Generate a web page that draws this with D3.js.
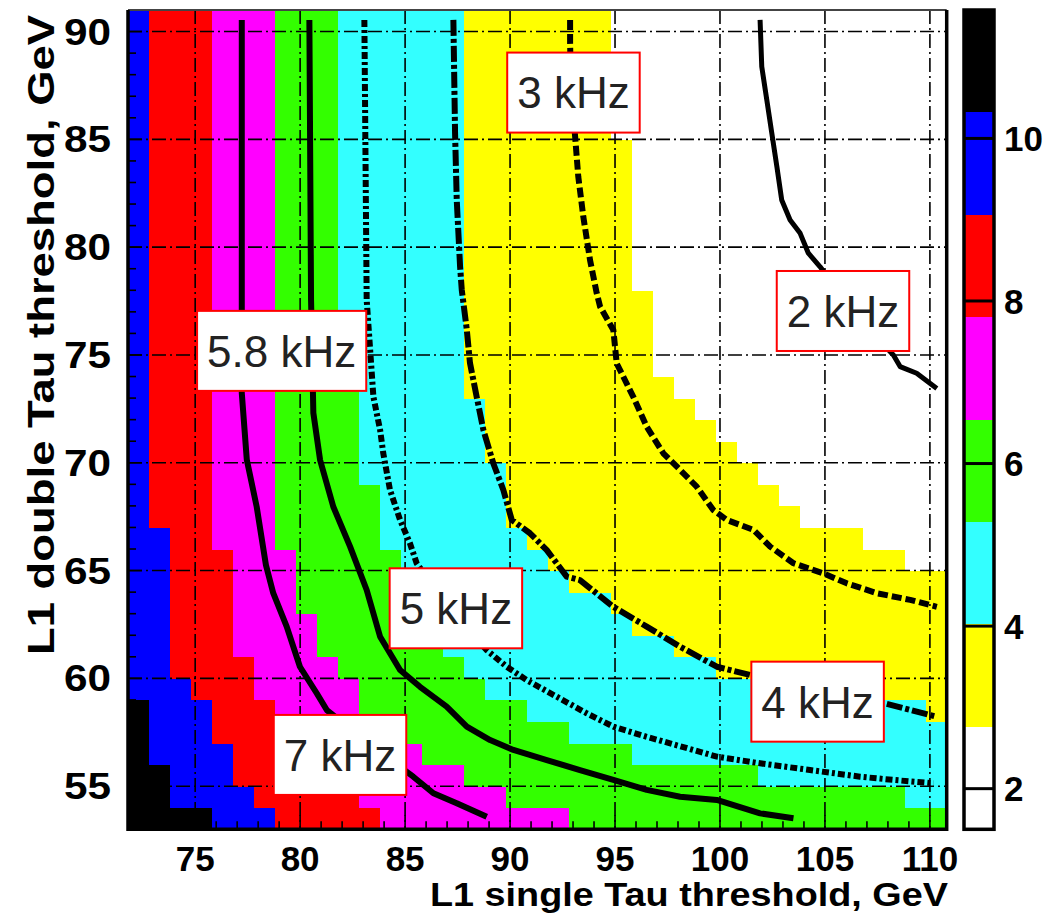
<!DOCTYPE html>
<html>
<head>
<meta charset="utf-8">
<script src="https://cdn.jsdelivr.net/npm/d3@7"></script>
<style>
  body { margin: 0; background: #fff; }
  text { font-family: "Liberation Sans", Arial, sans-serif; }
</style>
</head>
<body>
<svg id="chart" width="1062" height="921"></svg>
<script>
// axis ranges (1 GeV bins)
const xRange = [71.8, 110.8];
const yRange = [53, 91];
const xTicks = [75, 80, 85, 90, 95, 100, 105, 110];
const yTicks = [55, 60, 65, 70, 75, 80, 85, 90];

// rate levels (kHz) of the colour palette and their colours, low -> high
const zLevels = [1.5, 2.76, 4.02, 5.28, 6.54, 7.8, 9.06, 10.32, 11.58];
const zColors = ["#ffffff", "#ffff00", "#33ffff", "#33ff00", "#ff00ff", "#ff0000", "#0000ff", "#000000"];
const zTicks = [2, 4, 6, 8, 10];

// for every row (double Tau 53..90, bottom first): x bin where
// blue, red, magenta, green, cyan, yellow, white start (black before blue)
const rowBreaks = [
  [4, 7, 12, 21, 39, 39, 39],
  [2, 6, 11, 18, 37, 39, 39],
  [2, 5, 10, 16, 30, 39, 39],
  [1, 5, 9, 14, 24, 39, 39],
  [1, 4, 8, 13, 21, 39, 39],
  [1, 4, 7, 11, 19, 38, 39],
  [0, 3, 6, 11, 17, 34, 39],
  [0, 2, 6, 10, 16, 28, 39],
  [0, 2, 5, 9, 15, 26, 39],
  [0, 2, 5, 9, 14, 24, 39],
  [0, 2, 5, 8, 14, 23, 39],
  [0, 2, 5, 8, 13, 21, 39],
  [0, 2, 5, 8, 13, 20, 37],
  [0, 2, 4, 7, 12, 19, 35],
  [0, 1, 4, 7, 12, 18, 32],
  [0, 1, 4, 7, 12, 18, 31],
  [0, 1, 4, 7, 11, 18, 30],
  [0, 1, 4, 7, 11, 17, 29],
  [0, 1, 4, 7, 11, 17, 28],
  [0, 1, 4, 7, 11, 17, 27],
  [0, 1, 4, 7, 11, 16, 26],
  [0, 1, 4, 7, 11, 16, 25],
  [0, 1, 4, 7, 11, 16, 25],
  [0, 1, 4, 7, 10, 16, 25],
  [0, 1, 4, 7, 10, 16, 25],
  [0, 1, 4, 7, 10, 16, 24],
  [0, 1, 4, 7, 10, 16, 24],
  [0, 1, 4, 7, 10, 16, 24],
  [0, 1, 4, 7, 10, 16, 24],
  [0, 1, 4, 7, 10, 16, 24],
  [0, 1, 4, 7, 10, 16, 24],
  [0, 1, 4, 7, 10, 16, 24],
  [0, 1, 4, 7, 10, 16, 23],
  [0, 1, 4, 7, 10, 16, 23],
  [0, 1, 4, 7, 10, 16, 23],
  [0, 1, 4, 7, 10, 16, 23],
  [0, 1, 4, 7, 10, 16, 23],
  [0, 1, 4, 7, 10, 16, 23]
];

// iso-rate contours [single, double]
const c7 = [[77.22, 90.54], [77.22, 73.24], [77.46, 70.13], [77.93, 67.96], [78.37, 65.26], [78.72, 63.95],
  [79.36, 62.40], [79.99, 60.54], [80.79, 59.31], [81.27, 58.53], [83.5, 56.8], [85.39, 55.44], [86.35, 54.67],
  [87.46, 54.21], [88.89, 53.58]];
const c58 = [[80.44, 90.54], [80.52, 77.55], [80.63, 72.31], [80.95, 70.13], [81.58, 67.96], [82.38, 66.11],
  [83.17, 64.10], [83.81, 61.93], [84.76, 60.39], [85.71, 59.61], [86.98, 58.69], [87.94, 57.76], [89.05, 57.14],
  [90.16, 56.68], [91.75, 56.21], [93.33, 55.75], [94.92, 55.29], [96.51, 54.83], [98.10, 54.51], [99.85, 54.36],
  [101.91, 53.74], [103.50, 53.51]];
const c5 = [[83.06, 90.54], [83.17, 77.55], [83.49, 73.06], [83.81, 71.52], [83.96, 70.44], [84.28, 68.74],
  [84.76, 67.35], [85.23, 66.27], [85.55, 65.34], [87.14, 63.17], [88.89, 61.31], [89.84, 60.54], [90.79, 59.92],
  [92.22, 59.15], [93.65, 58.38], [94.92, 57.76], [96.51, 57.29], [98.73, 56.68], [99.85, 56.37], [101.91, 56.06],
  [104.29, 55.75], [106.67, 55.44], [108.26, 55.29], [110.17, 55.13]];
const c4 = [[87.30, 90.54], [87.38, 85.30], [87.46, 82.19], [87.62, 79.09], [87.70, 78.01], [87.94, 76.16],
  [88.09, 74.63], [88.41, 73.06], [88.73, 71.52], [89.20, 69.98], [89.68, 68.74], [90.08, 67.35], [90.95, 66.73],
  [91.75, 65.95], [92.70, 64.72], [93.33, 64.56], [94.92, 63.32], [96.51, 62.40], [98.10, 61.47], [99.85, 60.54],
  [101.43, 60.16], [104.77, 59.47], [107.86, 58.84], [110.33, 58.22]];
const c3 = [[92.86, 90.54], [92.86, 89.47], [92.9, 87.5], [93.10, 85.12], [93.25, 83.27], [93.49, 81.41],
  [93.81, 79.40], [94.13, 77.86], [94.29, 77.24], [94.92, 76.16], [95.08, 74.61], [95.87, 73.06], [96.51, 71.67],
  [97.30, 70.44], [98.10, 69.67], [98.89, 68.89], [99.68, 67.81], [100.32, 67.35], [101.59, 66.89], [102.39, 66.11],
  [103.50, 65.34], [104.93, 64.87], [106.04, 64.41], [107.47, 63.95], [109.06, 63.64], [110.33, 63.32]];
const c2 = [[101.91, 90.54], [101.99, 88.37], [102.23, 86.83], [102.47, 85.28], [102.71, 83.73], [102.94, 82.19],
  [103.34, 81.26], [103.82, 80.64], [104.21, 79.72], [104.77, 79.09], [106.67, 76.62], [108.26, 75.00],
  [108.58, 74.46], [109.37, 74.15], [110.33, 73.45]];

const contours = [
  { points: c7, dash: null, w: 6 },
  { points: c58, dash: null, w: 6 },
  { points: c5, dash: "7,3,3,3", w: 6 },
  { points: c4, dash: "16,3,4,3", w: 6 },
  { points: c3, dash: "10,4", w: 6 },
  { points: c2, dash: null, w: 5 }
];

// rate labels, centre in axis units
const labelText = ["3 kHz", "2 kHz", "5.8 kHz", "5 kHz", "4 kHz", "7 kHz"];
const labelX = [93.02, 105.86, 79.12, 87.42, 104.65, 81.9];
const labelY = [87.17, 77.04, 75.19, 63.25, 58.92, 56.45];

const svg = d3.select("#chart");
const W = 1062, H = 921;
svg.append("rect").attr("width", W).attr("height", H).attr("fill", "#fff");

const plot = { left: 128, right: 946.7, top: 10, bottom: 829.3 };
const x = d3.scaleLinear().domain(xRange).range([plot.left, plot.right]);
const y = d3.scaleLinear().domain(yRange).range([plot.bottom, plot.top]);
const color = d3.scaleThreshold().domain(zLevels.slice(1, -1)).range(zColors);

// cells
const cells = [];
rowBreaks.forEach((br, j) => {
  for (let i = 0; i < 39; i++) {
    const band = br.filter(b => b <= i).length; // 0 black ... 7 white
    const k = 7 - band;
    cells.push({ x0: xRange[0] + i, y0: yRange[0] + j, z: (zLevels[k] + zLevels[k + 1]) / 2 });
  }
});

svg.append("g")
  .attr("shape-rendering", "crispEdges")
  .selectAll("rect")
  .data(cells)
  .join("rect")
  .attr("x", d => x(d.x0))
  .attr("y", d => y(d.y0 + 1))
  .attr("width", d => x(d.x0 + 1) - x(d.x0) + 0.5)
  .attr("height", d => y(d.y0) - y(d.y0 + 1) + 0.5)
  .attr("fill", d => color(d.z));

// grid
const grid = svg.append("g")
  .attr("stroke", "#000")
  .attr("stroke-width", 1.6)
  .attr("stroke-dasharray", "14,4,2,4");
grid.selectAll(".gx").data(xTicks).join("line")
  .attr("x1", d => x(d)).attr("x2", d => x(d))
  .attr("y1", plot.top).attr("y2", plot.bottom);
grid.selectAll(".gy").data(yTicks).join("line")
  .attr("y1", d => y(d)).attr("y2", d => y(d))
  .attr("x1", plot.left).attr("x2", plot.right);

// contours
svg.append("clipPath").attr("id", "clip")
  .append("rect")
  .attr("x", plot.left).attr("y", plot.top)
  .attr("width", plot.right - plot.left).attr("height", plot.bottom - plot.top);

const line = d3.line().x(d => x(d[0])).y(d => y(d[1])).curve(d3.curveLinear);
svg.append("g").attr("clip-path", "url(#clip)")
  .selectAll("path")
  .data(contours)
  .join("path")
  .attr("d", d => line(d.points))
  .attr("fill", "none")
  .attr("stroke", "#000")
  .attr("stroke-width", d => d.w)
  .attr("stroke-linejoin", "round")
  .attr("stroke-dasharray", d => d.dash);

// ticks
const xMinor = d3.range(72, 111);
const yMinor = d3.range(54, 91);
const tk = svg.append("g").attr("stroke", "#000").attr("stroke-width", 1.6);
tk.selectAll(".tx").data(xMinor).join("line")
  .attr("x1", d => x(d)).attr("x2", d => x(d))
  .attr("y1", plot.bottom).attr("y2", d => plot.bottom - (d % 5 === 0 ? 14 : 8));
tk.selectAll(".ty").data(yMinor).join("line")
  .attr("y1", d => y(d)).attr("y2", d => y(d))
  .attr("x1", plot.left).attr("x2", d => plot.left + (d % 5 === 0 ? 14 : 8));

// frame
svg.append("line").attr("x1", plot.left).attr("x2", plot.right)
  .attr("y1", plot.top).attr("y2", plot.top)
  .attr("stroke", "#444").attr("stroke-width", 2);
svg.append("path")
  .attr("d", `M${plot.left},${plot.top}V${plot.bottom}H${plot.right}V${plot.top}`)
  .attr("fill", "none").attr("stroke", "#000").attr("stroke-width", 3.5);

// tick labels
svg.append("g").selectAll("text").data(xTicks).join("text")
  .attr("x", d => x(d)).attr("y", 871)
  .attr("text-anchor", "middle")
  .attr("font-size", 35).attr("font-weight", "bold")
  .text(d => d);
svg.append("g").selectAll("text").data(yTicks).join("text")
  .attr("x", 111).attr("y", d => y(d))
  .attr("dy", "0.36em")
  .attr("text-anchor", "end")
  .attr("font-size", 36).attr("font-weight", "bold")
  .attr("textLength", 47).attr("lengthAdjust", "spacingAndGlyphs")
  .text(d => d);

// axis titles
svg.append("text")
  .attr("x", 948).attr("y", 906)
  .attr("text-anchor", "end")
  .attr("font-size", 34).attr("font-weight", "bold")
  .attr("textLength", 518).attr("lengthAdjust", "spacingAndGlyphs")
  .text("L1 single Tau threshold, GeV");
svg.append("text")
  .attr("transform", "translate(54,15) rotate(-90)")
  .attr("text-anchor", "end")
  .attr("font-size", 36).attr("font-weight", "bold")
  .attr("textLength", 640).attr("lengthAdjust", "spacingAndGlyphs")
  .text("L1 double Tau threshold, GeV");

// labels
const lab = svg.append("g").selectAll("g").data(labelText).join("g")
  .attr("transform", (d, i) => `translate(${x(labelX[i])},${y(labelY[i])})`);
lab.append("rect").attr("class", "box");
lab.append("text")
  .attr("text-anchor", "middle")
  .attr("dy", "0.36em")
  .attr("font-size", 44)
  .attr("fill", "#222")
  .text(d => d);
lab.each(function () {
  const g = d3.select(this);
  const w = g.select("text").node().getComputedTextLength() + 20;
  g.select("rect")
    .attr("x", -w / 2).attr("y", -40)
    .attr("width", w).attr("height", 80)
    .attr("fill", "#fff").attr("stroke", "#f00").attr("stroke-width", 2);
});

// colour bar
const bar = { left: 964, right: 994 };
const z = d3.scaleLinear().domain([zLevels[0], zLevels[zLevels.length - 1]]).range([plot.bottom, plot.top]);
svg.append("g").attr("shape-rendering", "crispEdges")
  .selectAll("rect").data(zColors).join("rect")
  .attr("x", bar.left).attr("width", bar.right - bar.left)
  .attr("y", (d, i) => z(zLevels[i + 1]))
  .attr("height", (d, i) => z(zLevels[i]) - z(zLevels[i + 1]))
  .attr("fill", d => d);
svg.append("g").selectAll("line").data(zTicks).join("line")
  .attr("x1", bar.left).attr("x2", bar.right)
  .attr("y1", d => z(d)).attr("y2", d => z(d))
  .attr("stroke", "#000").attr("stroke-width", 3);
svg.append("rect")
  .attr("x", bar.left).attr("y", plot.top)
  .attr("width", bar.right - bar.left).attr("height", plot.bottom - plot.top)
  .attr("fill", "none").attr("stroke", "#000").attr("stroke-width", 3.5);
svg.append("g").selectAll("text").data(zTicks).join("text")
  .attr("x", 1004).attr("y", d => z(d))
  .attr("dy", "0.36em")
  .attr("font-size", 35).attr("font-weight", "bold")
  .text(d => d);
</script>
</body>
</html>
